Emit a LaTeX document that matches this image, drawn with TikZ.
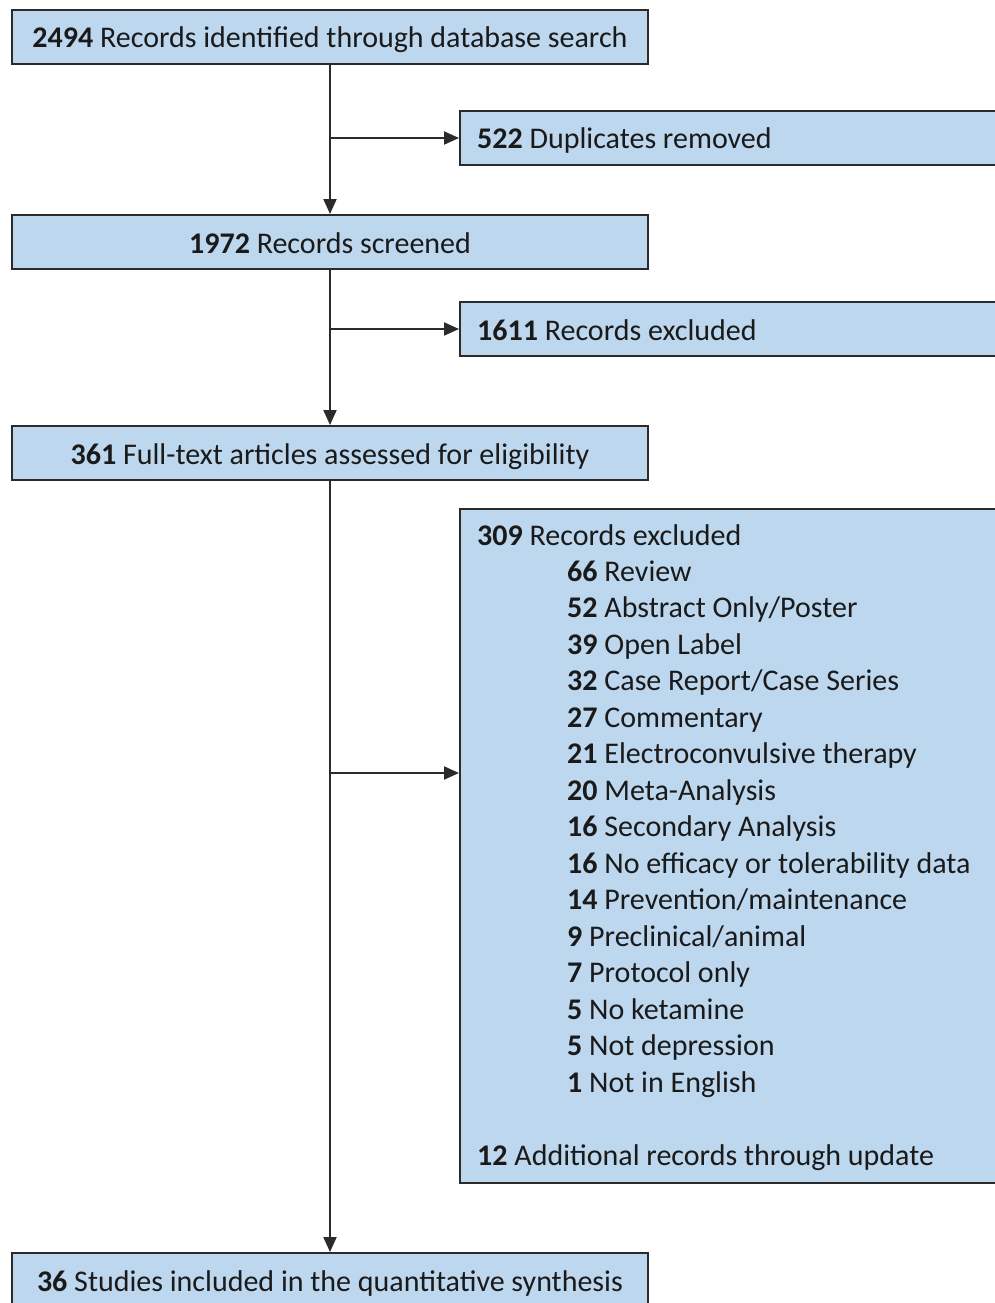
\documentclass[tikz,border=0pt]{standalone}
\usepackage{fontspec}
\setmainfont{Carlito}
\usetikzlibrary{arrows.meta}
\definecolor{boxfill}{HTML}{BDD7EE}
\definecolor{edge}{HTML}{2B2B2B}
\definecolor{ink}{HTML}{1A1A1A}
\newcommand{\lblfont}{\fontsize{30}{36}\selectfont}
\begin{document}
\begin{tikzpicture}[x=1pt,y=-1pt,
  mainbox/.style={draw=edge, fill=boxfill, line width=2pt, minimum width=636pt, minimum height=54pt, inner sep=0pt, text height=22pt, text depth=0pt, font=\lblfont, text=ink},
  sidebox/.style={draw=edge, fill=boxfill, line width=2pt, anchor=west, minimum width=566pt, minimum height=54pt, inner sep=0pt},
  flow/.style={draw=edge, line width=2pt, -{Triangle[length=15pt,width=13pt]}},
  item/.style={anchor=base west, inner sep=0pt, font=\lblfont, text=ink}]
\fill[white] (0,0) rectangle (995,1303);
\begin{scope}
\clip (0,0) rectangle (995,1303);
\node[mainbox] (b1) at (330,37) {\textbf{2494} Records identified through database search};
\node[sidebox] (dup) at (459,138) {};
\node[item] (dupt) at (477,149) {\textbf{522} Duplicates removed};
\node[mainbox] (b2) at (330,242) {\textbf{1972} Records screened};
\node[sidebox] (ex1) at (459,329) {};
\node[item] (ex1t) at (477,340) {\textbf{1611} Records excluded};
\node[mainbox] (b3) at (330,453) {\textbf{361} Full-text articles assessed for eligibility};
\node[sidebox, anchor=north west, minimum height=674pt] (ex2) at (459,508) {};
\node[mainbox] (b4) at (330,1280) {\textbf{36} Studies included in the quantitative synthesis};
\node[item] (t0) at (477,545) {\textbf{309} Records excluded};
\foreach \n/\txt [count=\i] in {66/Review, 52/Abstract Only\slash Poster, 39/Open Label, 32/Case Report\slash Case Series, 27/Commentary, 21/Electroconvulsive therapy, 20/Meta-Analysis, 16/Secondary Analysis, 16/No efficacy or tolerability data, 14/Prevention\slash maintenance, 9/Preclinical\slash animal, 7/Protocol only, 5/No ketamine, 5/Not depression, 1/Not in English}
  \node[item] (t\i) at (567,{545+\i*36.47}) {\textbf{\n} \txt};
\node[item] (t17) at (477,1165) {\textbf{12} Additional records through update};
\coordinate (j3) at (330,773);
\draw[flow] (b1.south) -- (b2.north);
\draw[flow] (b1.south |- dup.west) -- (dup.west);
\draw[flow] (b2.south) -- (b3.north);
\draw[flow] (b2.south |- ex1.west) -- (ex1.west);
\draw[flow] (b3.south) -- (b4.north);
\draw[flow] (j3) -- (j3 -| ex2.west);
\end{scope}
\pgfresetboundingbox
\useasboundingbox (0,0) rectangle (995,1303);
\end{tikzpicture}
\end{document}
